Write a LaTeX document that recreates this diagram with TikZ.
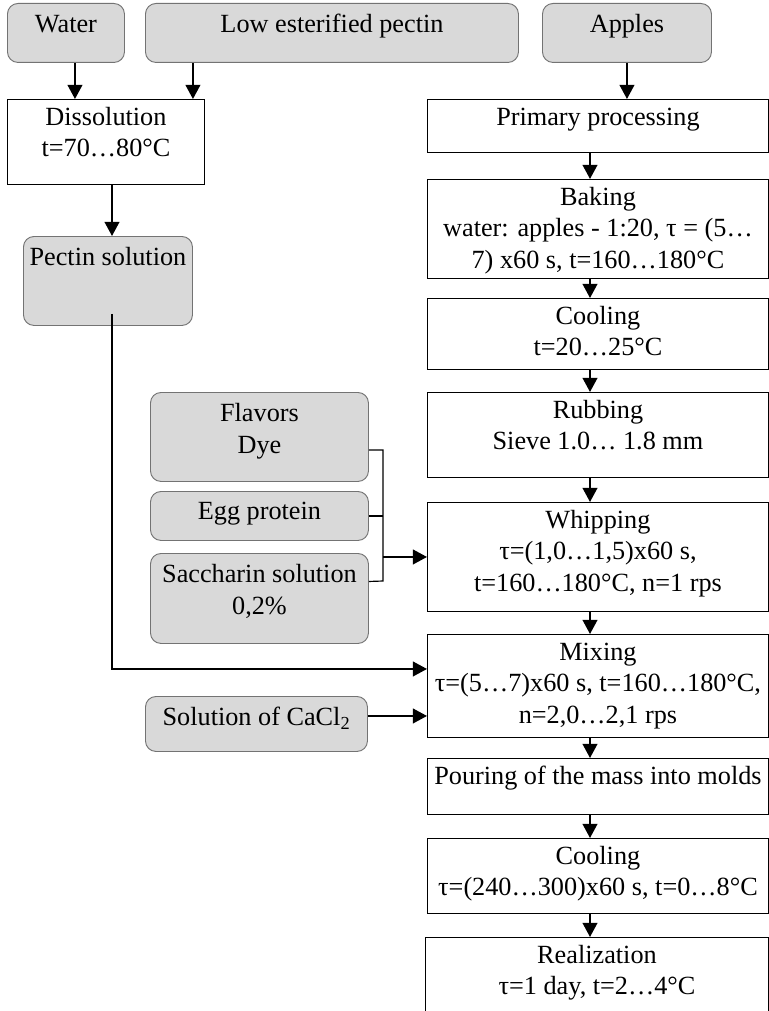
\documentclass[tikz,border=0pt]{standalone}
\usepackage{fontspec}
\setmainfont{Liberation Serif}
\usepackage{tikz}
\usetikzlibrary{arrows.meta, positioning}

\definecolor{boxgray}{HTML}{D9D9D9}
\newlength\pxu
\setlength\pxu{0.03cm}
% text of a box: [first line height], width, height, lines (top aligned)
\newcommand{\boxtext}[4][22pt]{\parbox[c][#3\pxu][t]{#2\pxu}{\centering\rule{0pt}{#1}#4}}

\begin{document}
\begin{tikzpicture}[x=\pxu, y=-\pxu,
		font=\fontsize{22.4}{27}\selectfont,
		proc/.style={draw=black, line width=0.8pt, fill=white, inner sep=0pt, anchor=north west},
		input/.style={proc, draw=black!55, fill=boxgray, rounded corners=9pt},
		arr/.style={line width=1.6pt, -{Triangle[length=12pt,width=12.5pt]}},
		conn/.style={line width=1pt}]
		\useasboundingbox (0,0) rectangle (769,1011);
		\clip (0,0) rectangle (769,1011);

		% Raw materials
		\node[input] (water)  at (7,3)   {\boxtext[25pt]{117}{59}{Water}};
		\node[input] (pectin) at (145,3) {\boxtext[25pt]{373}{59}{Low esterified pectin}};
		\node[input] (apples) at (542,3) {\boxtext[25pt]{169}{59}{Apples}};

		% Pectin branch
		\node[proc]  (dissol) at (7,99)   {\boxtext{197}{85}{Dissolution\\t=70…80°C}};
		\node[input] (pecsol) at (23,236) {\boxtext[25pt]{169}{89}{Pectin solution}};

		% Main line
		\node[proc] (primary)  at (427,99)  {\boxtext{341}{53}{Primary processing}};
		\node[proc] (baking)   at (427,179) {\boxtext{341}{99}{Baking\\water: apples - 1:20, τ = (5…\\7) x60 s, t=160…180°C}};
		\node[proc] (cool1)    at (427,298) {\boxtext{341}{71}{Cooling\\t=20…25°C}};
		\node[proc] (rubbing)  at (427,392) {\boxtext{341}{85}{Rubbing\\Sieve 1.0… 1.8 mm}};
		\node[proc] (whipping) at (427,502) {\boxtext{341}{109}{Whipping\\τ=(1,0…1,5)x60 s,\\t=160…180°C, n=1 rps}};
		\node[proc] (mixing)   at (427,634) {\boxtext{341}{103}{Mixing\\τ=(5…7)x60 s, t=160…180°C,\\n=2,0…2,1 rps}};
		\node[proc] (pouring)  at (427,758) {\boxtext{341}{56}{Pouring of the mass into molds}};
		\node[proc] (cool2)    at (427,838) {\boxtext{341}{75}{Cooling\\τ=(240…300)x60 s, t=0…8°C}};
		\node[proc] (realiz)   at (425,937) {\boxtext{343}{90}{Realization\\τ=1 day, t=2…4°C}};

		% Additives
		\node[input] (flavors) at (150,392) {\boxtext[25pt]{218}{89}{Flavors\\Dye}};
		\node[input] (egg)     at (150,491) {\boxtext[24pt]{218}{49}{Egg protein}};
		\node[input] (sacch)   at (150,553) {\boxtext[25pt]{218}{90}{Saccharin solution\\0,2\%}};
		\node[input] (cacl)    at (145,696) {\boxtext[25pt]{222}{55}{Solution of CaCl\textsubscript{2}}};

		% Helper coordinates
		\coordinate (spine) at (590,0);
		\coordinate (lx) at (112,0);
		\coordinate (jtop) at (383,450);
		\coordinate (jbot) at (383,581);
		\coordinate (ps) at (pecsol.south -| lx);

		% Arrows into dissolution
		\draw[arr] ([xshift=9\pxu]water.south) -- ([xshift=9\pxu]water.south |- dissol.north);
		\draw[arr] ([xshift=-12\pxu]dissol.north east |- pectin.south) -- ([xshift=-12\pxu]dissol.north east);
		\draw[arr] (dissol.south -| lx) -- (pecsol.north -| lx);
		\draw[arr] (apples.south) -- (apples.south |- primary.north);

		% Main line arrows
		\foreach \a/\b in {primary/baking, baking/cool1, cool1/rubbing, rubbing/whipping,
			whipping/mixing, mixing/pouring, pouring/cool2, cool2/realiz}
			\draw[arr] (\a.south -| spine) -- (\b.north -| spine);

		% Pectin solution to mixing
		\draw[arr] ([yshift=12\pxu]ps) |- ([yshift=17\pxu]mixing.west);
		% CaCl2 to mixing
		\draw[arr] ([yshift=8\pxu]cacl.east) -- ([yshift=8\pxu]cacl.east -| mixing.west);

		% Additives to whipping
		\draw[conn] ([yshift=-13\pxu]flavors.east) -- (jtop) -- (jbot) -- ([yshift=17\pxu]sacch.east);
		\draw[conn] (egg.east) -- (egg.east -| jtop);
		\draw[arr] (whipping.west -| jtop) -- (whipping.west);
\end{tikzpicture}
\end{document}
